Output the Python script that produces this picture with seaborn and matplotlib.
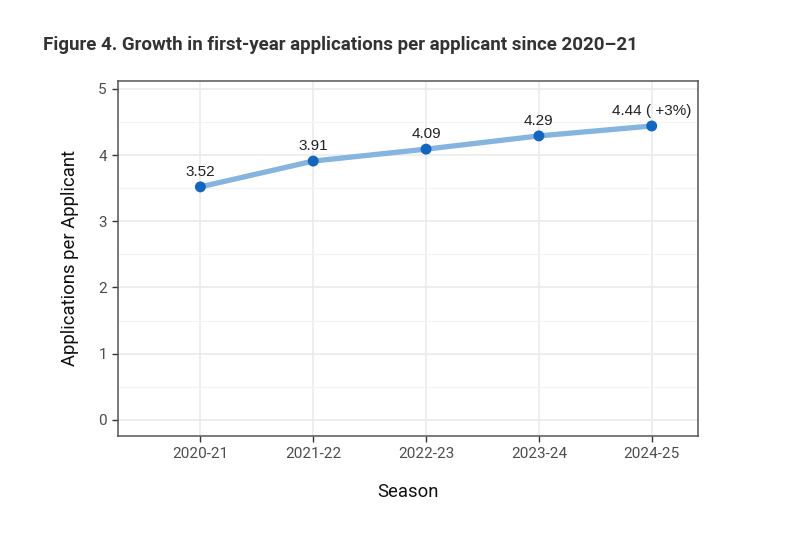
import matplotlib
matplotlib.use("Agg")
import matplotlib.pyplot as plt
import pandas as pd
import seaborn as sns
from matplotlib.ticker import MultipleLocator

seasons = ["2020-21", "2021-22", "2022-23", "2023-24", "2024-25"]
apps_per_applicant = [3.52, 3.91, 4.09, 4.29, 4.44]
point_labels = ["3.52", "3.91", "4.09", "4.29", "4.44 ( +3%)"]

df = pd.DataFrame({"Season": seasons, "Applications": apps_per_applicant})

sns.set_theme(style="whitegrid")
plt.rcParams["font.family"] = ["Roboto", "DejaVu Sans"]

fig = plt.figure(figsize=(8.1, 5.42), dpi=100)
ax = fig.add_axes([0.1457, 0.196, 0.716, 0.6546])

sns.lineplot(data=df, x="Season", y="Applications", sort=False,
             color="#85b4df", linewidth=3.8, ax=ax, zorder=2)
sns.scatterplot(data=df, x="Season", y="Applications", color="#1166c0",
                s=62, edgecolor="none", ax=ax, zorder=3)

for i, (v, lab) in enumerate(zip(apps_per_applicant, point_labels)):
    ax.annotate(lab, (i, v), xytext=(0, 6), textcoords="offset points",
                ha="center", va="bottom", fontsize=11, color="#222222",
                family=["Liberation Sans", "DejaVu Sans"])

ax.set_xlim(-0.73, 4.41)
ax.set_ylim(-0.24, 5.12)
ax.yaxis.set_major_locator(MultipleLocator(1))
ax.yaxis.set_minor_locator(MultipleLocator(0.5))
ax.grid(which="major", color="#ebebeb", linewidth=1.2)
ax.grid(which="minor", axis="y", color="#f2f2f2", linewidth=0.8)
ax.set_axisbelow(True)

for sp in ax.spines.values():
    sp.set_visible(True)
    sp.set_color("#555555")
    sp.set_linewidth(1.1)

ax.tick_params(axis="both", which="major", length=4, width=1, color="#333333",
               labelsize=11, labelcolor="#4d4d4d", pad=4, direction="out")
ax.tick_params(axis="both", which="minor", length=0)
ax.tick_params(axis="x", bottom=True)
ax.tick_params(axis="y", left=True)

ax.set_xlabel("Season", fontsize=13.3, color="#111111", labelpad=16)
ax.set_ylabel("Applications per Applicant", fontsize=13.3, color="#111111", labelpad=14)

fig.text(0.053, 0.917, "Figure 4. Growth in first-year applications per applicant since 2020\u201321",
         fontsize=13.5, fontweight="bold", color="#333333", ha="left", va="center")

fig.savefig("out.png", dpi=100, facecolor="white")
